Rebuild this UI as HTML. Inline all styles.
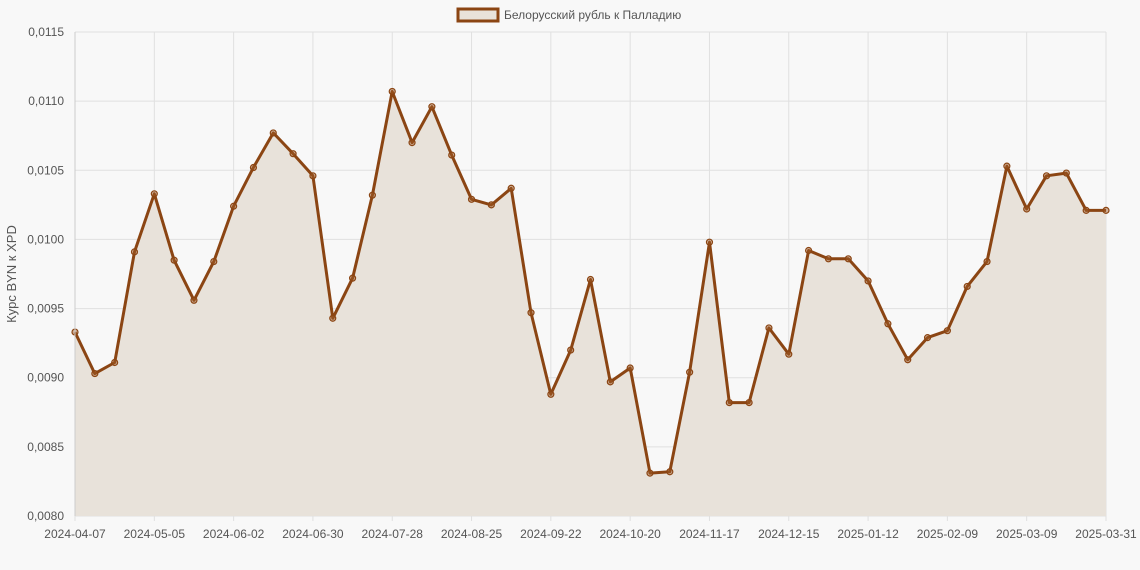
<!DOCTYPE html>
<html><head><meta charset="utf-8"><style>
body{margin:0;background:#f8f8f8;}
svg{display:block;font-family:"Liberation Sans","DejaVu Sans",sans-serif;}
</style></head><body>
<svg id="chart" width="1140" height="570" xmlns="http://www.w3.org/2000/svg">
<rect x="0" y="0" width="1140" height="570" fill="#f8f8f8"/>
<g id="grid"></g>
<g id="plot"></g>
<g id="axes"></g>
<g>
<rect x="458" y="9" width="40" height="12" fill="#e8e2da" stroke="#8b4513" stroke-width="3"/>
<text x="504" y="19" font-size="12" fill="#555">Белорусский рубль к Палладию</text>
</g>
<text transform="translate(16,274) rotate(-90)" text-anchor="middle" font-size="13" fill="#555">Курс BYN к XPD</text>
</svg>
<script>
const values=[0.00933,0.00903,0.00911,0.00991,0.01033,0.00985,0.00956,0.00984,0.01024,0.01052,0.01077,0.01062,0.01046,0.00943,0.00972,0.01032,0.01107,0.01070,0.01096,0.01061,0.01029,0.01025,0.01037,0.00947,0.00888,0.00920,0.00971,0.00897,0.00907,0.00831,0.00832,0.00904,0.00998,0.00882,0.00882,0.00936,0.00917,0.00992,0.00986,0.00986,0.00970,0.00939,0.00913,0.00929,0.00934,0.00966,0.00984,0.01053,0.01022,0.01046,0.01048,0.01021,0.01021];
const xLabels=["2024-04-07","2024-05-05","2024-06-02","2024-06-30","2024-07-28","2024-08-25","2024-09-22","2024-10-20","2024-11-17","2024-12-15","2025-01-12","2025-02-09","2025-03-09","2025-03-31"];
const xLabelIdx=[0,4,8,12,16,20,24,28,32,36,40,44,48,52];
const yTicks=[0.0080,0.0085,0.0090,0.0095,0.0100,0.0105,0.0110,0.0115];
const L=75,R=1106,T=32,B=516,yMin=0.0080,yMax=0.0115;
const X=i=>L+(R-L)*i/(values.length-1);
const Y=v=>B-(v-yMin)/(yMax-yMin)*(B-T);
const NS="http://www.w3.org/2000/svg";
function mk(tag,attrs,parent){const e=document.createElementNS(NS,tag);for(const k in attrs)e.setAttribute(k,attrs[k]);parent.appendChild(e);return e;}
const grid=document.getElementById('grid'),plot=document.getElementById('plot'),axes=document.getElementById('axes');
yTicks.forEach(t=>{
 const l=mk('line',{x1:L,x2:R,y1:Y(t),y2:Y(t),stroke:'#e0e0e0'},grid);
 
 
 const tx=mk('text',{x:L-11,y:Y(t)+4,'text-anchor':'end','font-size':12,fill:'#555'},axes);
 tx.textContent=t.toFixed(4).replace('.',',');
 
 
});
xLabelIdx.forEach((idx,k)=>{
 const l=mk('line',{x1:X(idx),x2:X(idx),y1:T,y2:B+5,stroke:'#e0e0e0'},grid);
 
 
 const tx=mk('text',{x:X(idx),y:B+22,'text-anchor':'middle','font-size':12,fill:'#555'},axes);
 tx.textContent=xLabels[k];
 
 
});
let d=values.map((v,i)=>(i?'L':'M')+X(i).toFixed(1)+','+Y(v).toFixed(1)).join('');
const area=mk('path',{d:d+'L'+R+','+B+'L'+L+','+B+'Z',fill:'#e8e2da'},plot);


const line=mk('path',{d:d,fill:'none',stroke:'#8b4513','stroke-width':3,'stroke-linejoin':'round'},plot);


values.forEach((v,i)=>{
 const c=mk('circle',{cx:X(i),cy:Y(v),r:3,fill:'rgba(160,90,40,0.45)',stroke:'#8b4513','stroke-width':1.2},plot);
 
 
});
const ax=mk('line',{x1:L,x2:L,y1:T,y2:B,stroke:'#ccc'},axes);


</script>
</body></html>
